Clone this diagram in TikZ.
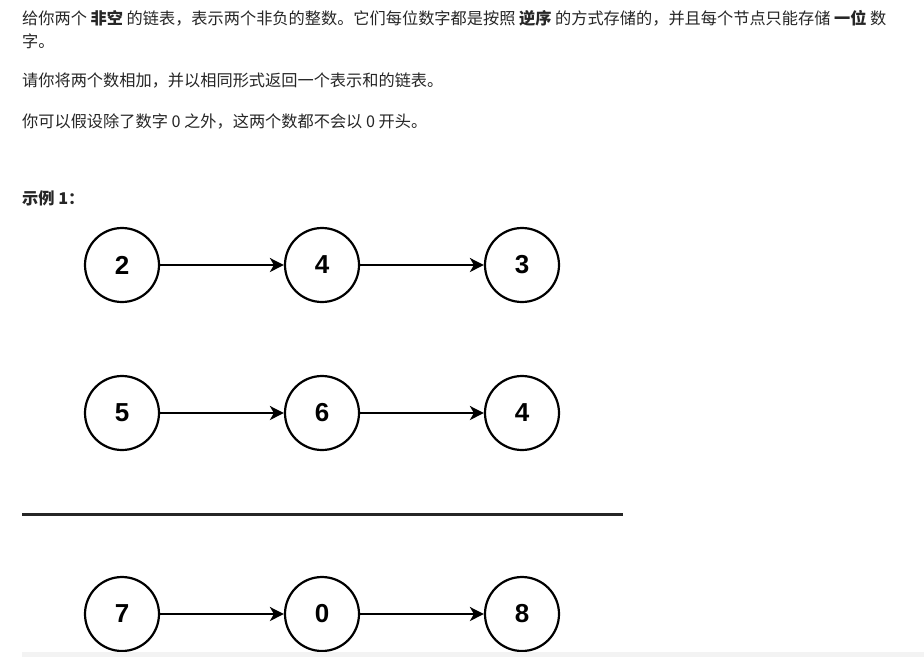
\documentclass[tikz,border=0pt]{standalone}
\usepackage{fontspec}
\setmainfont{Liberation Sans}
\newfontfamily\cjk{Noto Sans CJK SC}
\usetikzlibrary{arrows.meta}
\definecolor{txt}{HTML}{262626}
\definecolor{strip}{HTML}{F3F3F3}
\begin{document}
\begin{tikzpicture}[x=1pt,y=-1pt,
  para/.style={anchor=west,inner sep=0pt,text=txt,font=\cjk\fontsize{16.2}{18}\selectfont},
  num/.style={circle,draw=black,line width=2.2pt,minimum size=74pt,inner sep=0pt,font=\fontsize{26}{28}\selectfont\bfseries},
  link/.style={draw=black,line width=2.2pt,-{Stealth[length=14pt,width=14pt,inset=4pt]}}]
\useasboundingbox (0,0) rectangle (924,657);
\fill[white] (0,0) rectangle (924,657);
\node[para] (t1) at (22,18) {给你两个 \textbf{非空} 的链表，表示两个非负的整数。它们每位数字都是按照 \textbf{逆序} 的方式存储的，并且每个节点只能存储 \textbf{一位} 数};
\node[para] (t2) at (22,41) {字。};
\node[para] (t3) at (22,81) {请你将两个数相加，并以相同形式返回一个表示和的链表。};
\node[para] (t4) at (22,122) {你可以假设除了数字 0 之外，这两个数都不会以 0 开头。};
\node[para] (t5) at (22,198) {\textbf{示例 1：}};
\node[num] (a1) at (122,265) {2};
\node[num] (a2) at (322,265) {4};
\node[num] (a3) at (522,265) {3};
\node[num] (b1) at (122,413) {5};
\node[num] (b2) at (322,413) {6};
\node[num] (b3) at (522,413) {4};
\node[num] (c1) at (122,614) {7};
\node[num] (c2) at (322,614) {0};
\node[num] (c3) at (522,614) {8};
\draw[link] (a1) -- (a2);
\draw[link] (a2.east) -- (a3.west);
\draw[link] (b1) -- (b2);
\draw[link] (b2.east) -- (b3.west);
\draw[link] (c1) -- (c2);
\draw[link] (c2.east) -- (c3.west);
\coordinate (l1) at (22,514);
\coordinate (l2) at (623,514);
\draw[line width=3pt,black!85] (l1) -- (l2);
\fill[strip] (22,652) rectangle (924,657);
\end{tikzpicture}
\end{document}
